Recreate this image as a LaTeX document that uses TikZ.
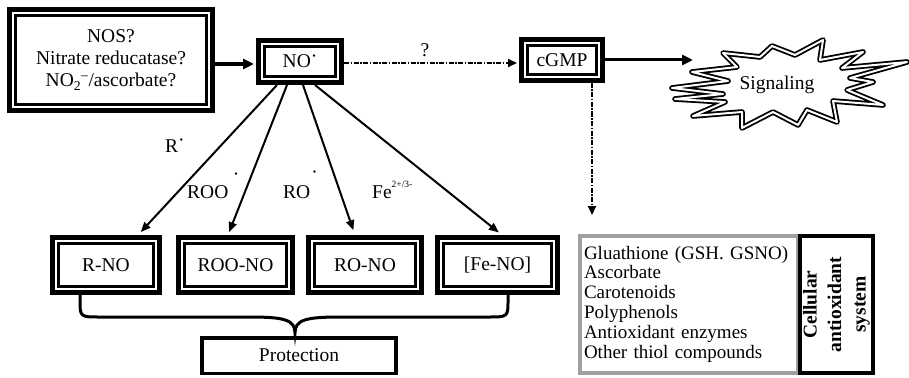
\documentclass[tikz,border=0pt]{standalone}
\usepackage{fontspec}
\setmainfont{Liberation Serif}
\usetikzlibrary{arrows.meta}
\definecolor{boxgray}{HTML}{A0A0A0}
\begin{document}
\begin{tikzpicture}[x=1pt,y=-1pt,
  every node/.style={font=\fontsize{19.5}{22}\selectfont, inner sep=0pt},
  frame/.style={draw, line width=5pt, fill=white, inner sep=0pt, align=center,
    path picture={\draw[line width=3pt] ([xshift=5.8pt,yshift=-5.8pt]path picture bounding box.north west) rectangle ([xshift=-5.8pt,yshift=5.8pt]path picture bounding box.south east);}},
  thickarr/.style={line width=3.5pt, -{Triangle[length=11pt,width=10pt]}},
  arr/.style={line width=2pt, -{Triangle[length=10pt,width=8pt]}},
  dasharr/.style={line width=2pt, dash pattern=on 5pt off 1.5pt on 1.5pt off 1.5pt, -{Triangle[length=9pt,width=8pt]}},
  burst/.style={draw, line width=1.8pt, double=white, double distance=2pt, line join=round}
]
\useasboundingbox (0,0) rectangle (909,377);

% main boxes
\node[frame, minimum width=203, minimum height=101] (src) at (111,60)
  {NOS?\\Nitrate reducatase?\\NO\textsubscript{2}\textsuperscript{–}/ascorbate?};
\node[frame, minimum width=83, minimum height=42] (no) at (300,61.5) {NO\raisebox{5pt}{·}};
\node[frame, minimum width=81, minimum height=41] (cgmp) at (562,60) {cGMP};

% product boxes
\node[frame, minimum width=107, minimum height=55] (rno) at (106,265) {R-NO};
\node[frame, minimum width=114, minimum height=55] (roono) at (235.5,265) {ROO-NO};
\node[frame, minimum width=113, minimum height=55] (rono) at (365,265) {RO-NO};
\node[frame, minimum width=120, minimum height=55] (feno) at (497.5,265) {[Fe-NO]};

\node[draw, line width=3.5pt, minimum width=194, minimum height=35.5] (prot) at (299,355.5) {Protection};

% antioxidant system
\node[draw=boxgray, line width=4pt, text width=210pt, inner xsep=4pt, align=left,
      minimum height=137, font=\fontsize{19}{19.8}\selectfont] (ant) at (689,304)
  {Gluathione (GSH. GSNO)\\Ascorbate\\Carotenoids\\Polyphenols\\Antioxidant enzymes\\Other thiol compounds};
\node[draw, line width=4pt, fill=white, rotate=90, minimum width=137, minimum height=73, align=center,
      font=\bfseries\fontsize{19.5}{24.5}\selectfont] (cas) at (836.5,304.5) {Cellular\\antioxidant\\system};

% signaling burst
\draw[burst] (672,88) -- (728,81) -- (692,72) -- (737,67) -- (723,53) -- (760,57) -- (772,46)
  -- (795,55) -- (823,40) -- (820,60) -- (863,52) -- (842,68) -- (907,62) -- (850,78)
  -- (873,82) -- (847,90) -- (883,105) -- (833,101) -- (837,122) -- (807,110) -- (798,125)
  -- (773,112) -- (742,128) -- (742,112) -- (693,116) -- (725,102) -- (675,99) -- (723,94) -- cycle;
\node (sig) at (777,85) {Signaling};

% connectors
\draw[thickarr, shorten >=2pt] ([yshift=-4pt]src.east) -- ([yshift=-2.5pt]no.west);
\draw[dasharr, shorten >=2pt] ([yshift=-1.5pt]no.east) -- ([yshift=-3pt]cgmp.west);
\node (q) at (425,50) {?};
\coordinate (sigin) at (693,60);
\draw[thickarr, line width=3pt] (cgmp.east) -- (sigin);
\coordinate (down) at (592,215);
\draw[dasharr] ([xshift=30pt]cgmp.south) -- (down);

\draw[arr, shorten >=4pt] ([xshift=-23pt]no.south) -- ([xshift=32pt]rno.north);
\draw[arr, shorten >=3pt] ([xshift=-13pt]no.south) -- ([xshift=-7.5pt]roono.north);
\draw[arr, shorten >=5pt] ([xshift=3pt]no.south) -- ([xshift=-10pt]rono.north);
\draw[arr, shorten >=4pt] ([xshift=15pt]no.south) -- ([xshift=4.5pt]feno.north);

% labels
\node[anchor=base west] (lr) at (165,152) {R\raisebox{6pt}{·}};
\node[anchor=base west] (lroo) at (187,198) {ROO\hspace{4.5pt}\raisebox{18pt}{·}};
\node[anchor=base west] (lro) at (283,198) {RO\hspace{1pt}\raisebox{20pt}{·}};
\node[anchor=base west] (lfe) at (372,198) {Fe\raisebox{11pt}{\fontsize{9.5}{10}\selectfont 2+/3-}};

% brace
\draw[line width=3pt] ([xshift=-26pt]rno.south) -- (80,300) .. controls (80,317) and (80,317) .. (100,317)
  -- (250,317) .. controls (285,317) and (295,320) .. (295,333)
  .. controls (295,320) and (305,317) .. (340,317) -- (488,317)
  .. controls (508,317) and (508,317) .. (508,300) -- ([xshift=10.5pt]feno.south);
\end{tikzpicture}
\end{document}
